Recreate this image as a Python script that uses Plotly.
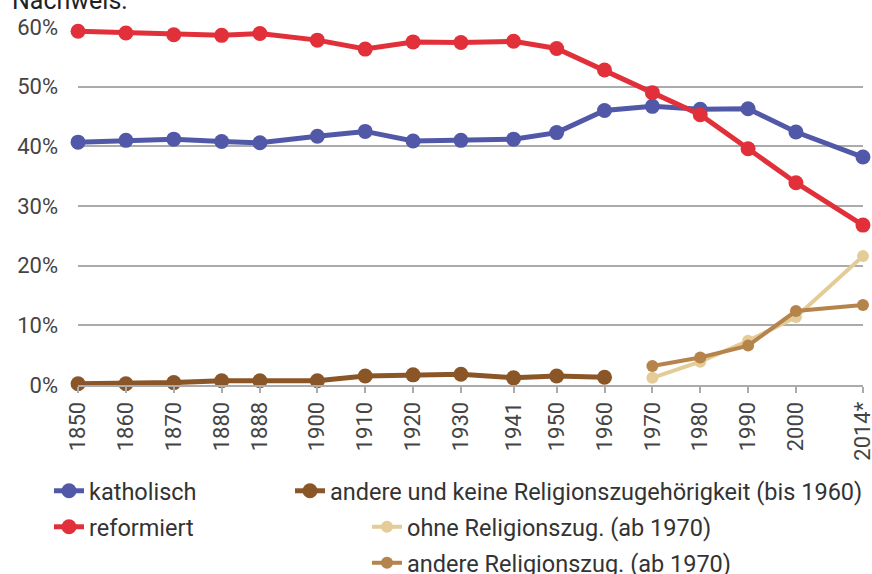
import plotly.graph_objects as go

years = [1850, 1860, 1870, 1880, 1888, 1900, 1910, 1920, 1930, 1941, 1950, 1960, 1970, 1980, 1990, 2000, 2014]
tick_labels = ["1850", "1860", "1870", "1880", "1888", "1900", "1910", "1920", "1930", "1941",
               "1950", "1960", "1970", "1980", "1990", "2000", "2014*"]

katholisch = [40.7, 41.0, 41.2, 40.8, 40.6, 41.7, 42.5, 40.9, 41.0, 41.2, 42.3, 46.0, 46.7, 46.2, 46.3, 42.4, 38.2]
reformiert = [59.3, 59.0, 58.7, 58.6, 58.9, 57.8, 56.3, 57.5, 57.4, 57.6, 56.4, 52.8, 49.0, 45.3, 39.6, 33.9, 26.8]

years_bis1960 = [1850, 1860, 1870, 1880, 1888, 1900, 1910, 1920, 1930, 1941, 1950, 1960]
andere_keine = [0.2, 0.2, 0.4, 0.7, 0.7, 0.7, 1.5, 1.7, 1.8, 1.2, 1.5, 1.3]

years_ab1970 = [1970, 1980, 1990, 2000, 2014]
ohne = [1.2, 3.9, 7.4, 11.4, 21.6]
andere = [3.2, 4.6, 6.6, 12.4, 13.4]

BLUE = "#5258A8"
RED = "#E2303A"
BROWN = "#8A5628"
LIGHT = "#E3CC97"
TAN = "#B5844C"
GRID = "#ABABAB"
TXT = "#444444"
FONT = "Roboto"

W, H = 872, 574
ML, MR, MT, MB = 78, 9, 27, 189
PW, PH = W - ML - MR, H - MT - MB

fig = go.Figure()

def add(x, y, name, color, lw, ms, legend):
    fig.add_trace(go.Scatter(
        x=x, y=y, name=name, mode="lines+markers",
        line=dict(color=color, width=lw),
        marker=dict(color=color, size=ms),
        cliponaxis=False, legend=legend,
    ))

add(years, katholisch, "katholisch", BLUE, 5, 15, "legend2")
add(years, reformiert, "reformiert", RED, 5, 15, "legend3")
add(years_bis1960, andere_keine, "andere und keine Religionszugehörigkeit (bis 1960)", BROWN, 5, 15, "legend4")
add(years_ab1970, ohne, "ohne Religionszug. (ab 1970)", LIGHT, 4, 12, "legend5")
add(years_ab1970, andere, "andere Religionszug. (ab 1970)", TAN, 4, 12, "legend6")


def leg(xpx, ypx):
    return dict(
        x=xpx / W, y=1 - ypx / H, xref="container", yref="container",
        xanchor="left", yanchor="middle",
        font=dict(family=FONT, size=23.5, color="#333333"),
        bgcolor="rgba(0,0,0,0)", borderwidth=0,
    )

fig.update_layout(
    width=W, height=H,
    margin=dict(l=ML, r=MR, t=MT, b=MB, autoexpand=False),
    paper_bgcolor="white", plot_bgcolor="white",
    font=dict(family=FONT, color=TXT),
    legend2=leg(49, 491),
    legend3=leg(49, 527),
    legend4=leg(290, 491),
    legend5=leg(367, 527),
    legend6=leg(367, 563),
    xaxis=dict(
        range=[1849.99, 2014.01], tickmode="array", tickvals=years, ticktext=tick_labels,
        tickangle=-90, tickfont=dict(family=FONT, size=22, color=TXT),
        ticklabeloverflow="allow",
        showgrid=False, zeroline=False, showline=True, linecolor=GRID, linewidth=2,
        ticks="outside", ticklen=6, tickcolor=GRID, tickwidth=1.5,
    ),
    yaxis=dict(
        range=[0, 60], tickvals=[0, 10, 20, 30, 40, 50, 60],
        ticktext=["0%", "10%", "20%", "30%", "40%", "50%", "60%"],
        tickfont=dict(family=FONT, size=22, color=TXT),
        showgrid=True, gridcolor=GRID, gridwidth=2, zeroline=False,
        ticks="", ticklabelstandoff=19,
    ),
    annotations=[dict(
        text="Nachweis:", x=(10 - ML) / PW, y=1 + (MT - 0) / PH, xref="paper", yref="paper",
        xanchor="left", yanchor="middle", showarrow=False,
        font=dict(family=FONT, size=25, color="#222222"),
    )],
)

fig.write_html(
    "out.html",
    config={"displayModeBar": False},
    post_script="document.body.style.margin='0';document.body.style.overflow='hidden';",
)
